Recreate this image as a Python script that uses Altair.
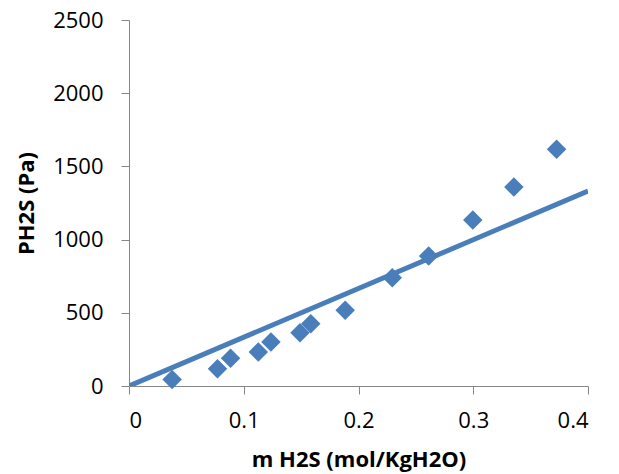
import altair as alt
import pandas as pd

m_h2s = [0.0376, 0.0771, 0.0885, 0.1127, 0.1237, 0.149, 0.1584, 0.1884,
         0.2294, 0.2611, 0.2996, 0.3354, 0.3726]
p_h2s = [45, 118, 189, 232, 300, 364, 426, 517, 740, 888, 1134, 1359, 1617]

# fitted straight line (end points)
fit_x = [0.0, 0.4]
fit_y = [0.0, 1332.0]

x_ticks = [0, 0.1, 0.2, 0.3, 0.4]
y_ticks = [0, 500, 1000, 1500, 2000, 2500]

pts = pd.DataFrame({"x": m_h2s, "y": p_h2s})
fit = pd.DataFrame({"x": fit_x, "y": fit_y})

FONT = "Open Sans"
BLUE = "#4A7EBB"
GRAY = "#868686"

x_enc = alt.X(
    "x:Q",
    scale=alt.Scale(domain=[0, 0.4], nice=False, zero=True),
    axis=alt.Axis(
        values=x_ticks, title="m H2S (mol/KgH2O)", format="~g",
        grid=False, domainColor=GRAY, tickColor=GRAY, tickSize=8,
        labelFontSize=22, labelFont=FONT, labelColor="black", labelPadding=16,
        titleFontSize=22, titleFont=FONT, titleFontWeight="bold",
        titleColor="black", titlePadding=18,
    ),
)
y_enc = alt.Y(
    "y:Q",
    scale=alt.Scale(domain=[0, 2500], nice=False),
    axis=alt.Axis(
        values=y_ticks, title="PH2S (Pa)", format="d",
        grid=False, domainColor=GRAY, tickColor=GRAY, tickSize=8,
        labelFontSize=22, labelFont=FONT, labelColor="black", labelPadding=18,
        titleFontSize=22, titleFont=FONT, titleFontWeight="bold",
        titleColor="black", titlePadding=14,
    ),
)

line = alt.Chart(fit).mark_line(color=BLUE, strokeWidth=5, clip=True).encode(x=x_enc, y=y_enc)
points = alt.Chart(pts).mark_point(
    shape="diamond", filled=True, size=380, color=BLUE, opacity=1
).encode(x=x_enc, y=y_enc)

chart = (
    alt.layer(line, points)
    .properties(
        width=459, height=366,
        background="white",
        autosize=alt.AutoSizeParams(type="none"),
        padding={"left": 121, "top": 12, "right": 22, "bottom": 87},
    )
    .configure_axis(grid=False)
    .configure_view(strokeWidth=0, stroke=None)
)

chart.save("out.html", embed_options={"renderer": "svg", "actions": False})
